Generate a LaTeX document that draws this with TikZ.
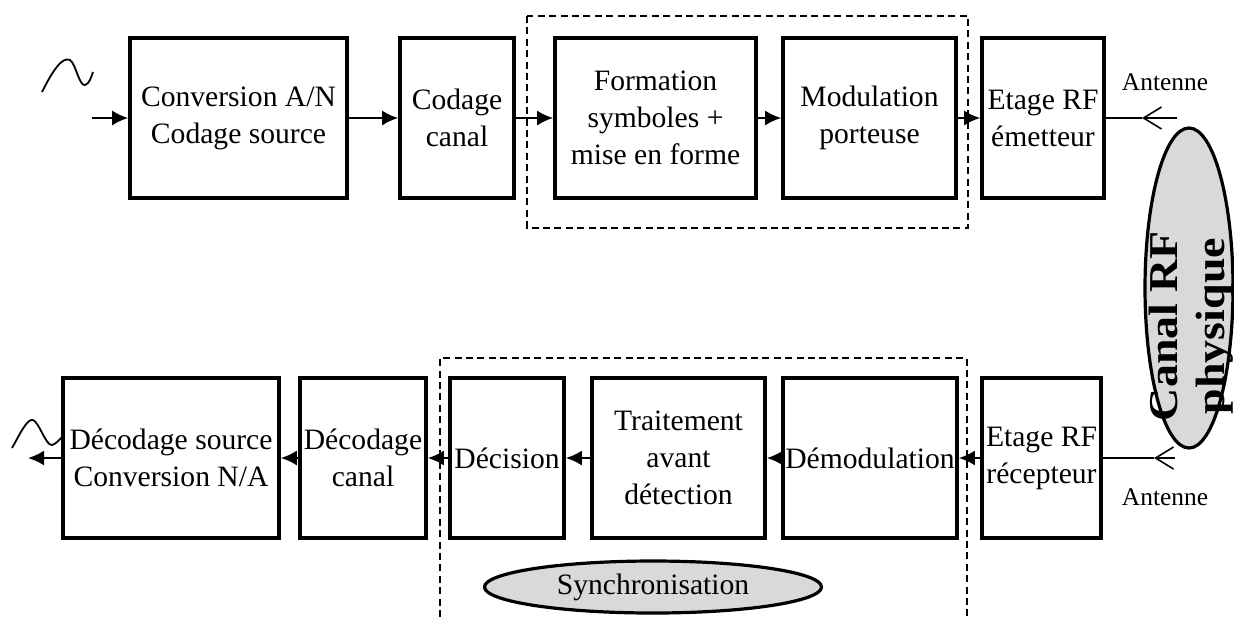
\documentclass[tikz,border=0pt]{standalone}
\usepackage{fontspec}
\setmainfont{Liberation Serif}
\newfontfamily\canalfont[FakeStretch=1.12]{Liberation Serif}
\usetikzlibrary{arrows.meta,shapes.geometric}

\tikzset{
  blk/.style={draw, line width=1.8pt, align=center, inner xsep=-4pt, inner ysep=0pt,
    minimum height=80pt, font=\fontsize{14.8}{18.5}\selectfont},
  sig/.style={-{Latex[length=8pt,width=7.5pt]}, line width=1.1pt},
  zone/.style={dash pattern=on 3.5pt off 2.2pt, line width=0.6pt},
  ant/.style={-{Straight Barb[length=9pt,width=11pt]}, line width=0.8pt},
  gris/.style={ellipse, draw, line width=1.6pt, fill=black!15},
}

\begin{document}
\begin{tikzpicture}[x=0.5pt, y=-0.5pt]
\useasboundingbox (0,0) rectangle (1234,617);

% chaine d'emission
\node[blk, minimum width=108.5pt] (conv) at (238.5,118) {Conversion A/N\\Codage source};
\node[blk, minimum width=57pt] (codc) at (457,118) {Codage\\canal};
\node[blk, minimum width=100.5pt] (form) at (655.5,118) {Formation\\symboles +\\mise en forme};
\node[blk, minimum width=86.5pt] (modu) at (869.5,118) {Modulation\\porteuse};
\node[blk, minimum width=61pt] (emet) at (1043,118) {Etage RF\\émetteur};

% chaine de reception
\node[blk, minimum width=108pt] (deso) at (171,458) {Décodage source\\Conversion N/A};
\node[blk, minimum width=63pt] (decc) at (363,458) {Décodage\\canal};
\node[blk, minimum width=57pt] (deci) at (507,458) {Décision};
\node[blk, minimum width=86.5pt] (trai) at (678.5,458) {Traitement\\avant\\détection};
\node[blk, minimum width=87pt] (demo) at (870,458) {Démodulation};
\node[blk, minimum width=59.5pt] (rece) at (1041.5,458) {Etage RF\\récepteur};

% canal et synchro
\node[gris, minimum width=44pt, minimum height=160pt] (canal) at (1189,288) {};
\node[rotate=90, font=\canalfont\fontsize{20.5}{23.5}\selectfont\bfseries, align=center] (canaltxt)
  at (1191,326) {Canal RF\\physique};
\node[gris, minimum width=168.5pt, minimum height=26pt, inner sep=0pt,
  font=\fontsize{14.8}{17}\selectfont] (sync) at (653,587) {Synchronisation};

% zones en pointilles
\draw[zone] (527,16) rectangle (968,228);
\draw[zone] (440,617) -- (440,358) -- (967,358) -- (967,617);

% signaux
\coordinate (in) at (92,118);
\coordinate (out) at (28,458);
\draw[sig] (in) -- (conv);
\draw[sig] (conv) -- (codc);
\draw[sig] (codc) -- (form);
\draw[sig] (form) -- (modu);
\draw[sig] (modu) -- (emet);
\draw[sig] (rece) -- (demo);
\draw[sig] (demo) -- (trai);
\draw[sig] (trai) -- (deci);
\draw[sig] (deci) -- (decc);
\draw[sig] (decc) -- (deso);
\draw[sig] (deso) -- (out);

% antennes
\coordinate (antE) at (1177,118); \coordinate (tipE) at (1142,118);
\coordinate (antR) at (1175,458); \coordinate (tipR) at (1154,458);
\draw[ant] (antE) -- (tipE);
\draw[line width=0.8pt] (tipE) -- (emet);
\draw[ant] (antR) -- (tipR);
\draw[line width=0.8pt] (tipR) -- (rece);
\node[font=\fontsize{12.7}{15}\selectfont] (labE) at (1165,82) {Antenne};
\node[font=\fontsize{12.7}{15}\selectfont] (labR) at (1165,497) {Antenne};

% sinusoides
\draw[line width=0.9pt] (42,92) .. controls (52,72) and (62,56) .. (70,60)
  .. controls (76,64) and (79,86) .. (85,85) .. controls (89,84) and (91,78) .. (93,72);
\draw[line width=0.9pt] (12,448) .. controls (19,436) and (27,418) .. (33,420)
  .. controls (39,422) and (46,446) .. (52,445) .. controls (56,444) and (59,440) .. (62,437);
\end{tikzpicture}
\end{document}
